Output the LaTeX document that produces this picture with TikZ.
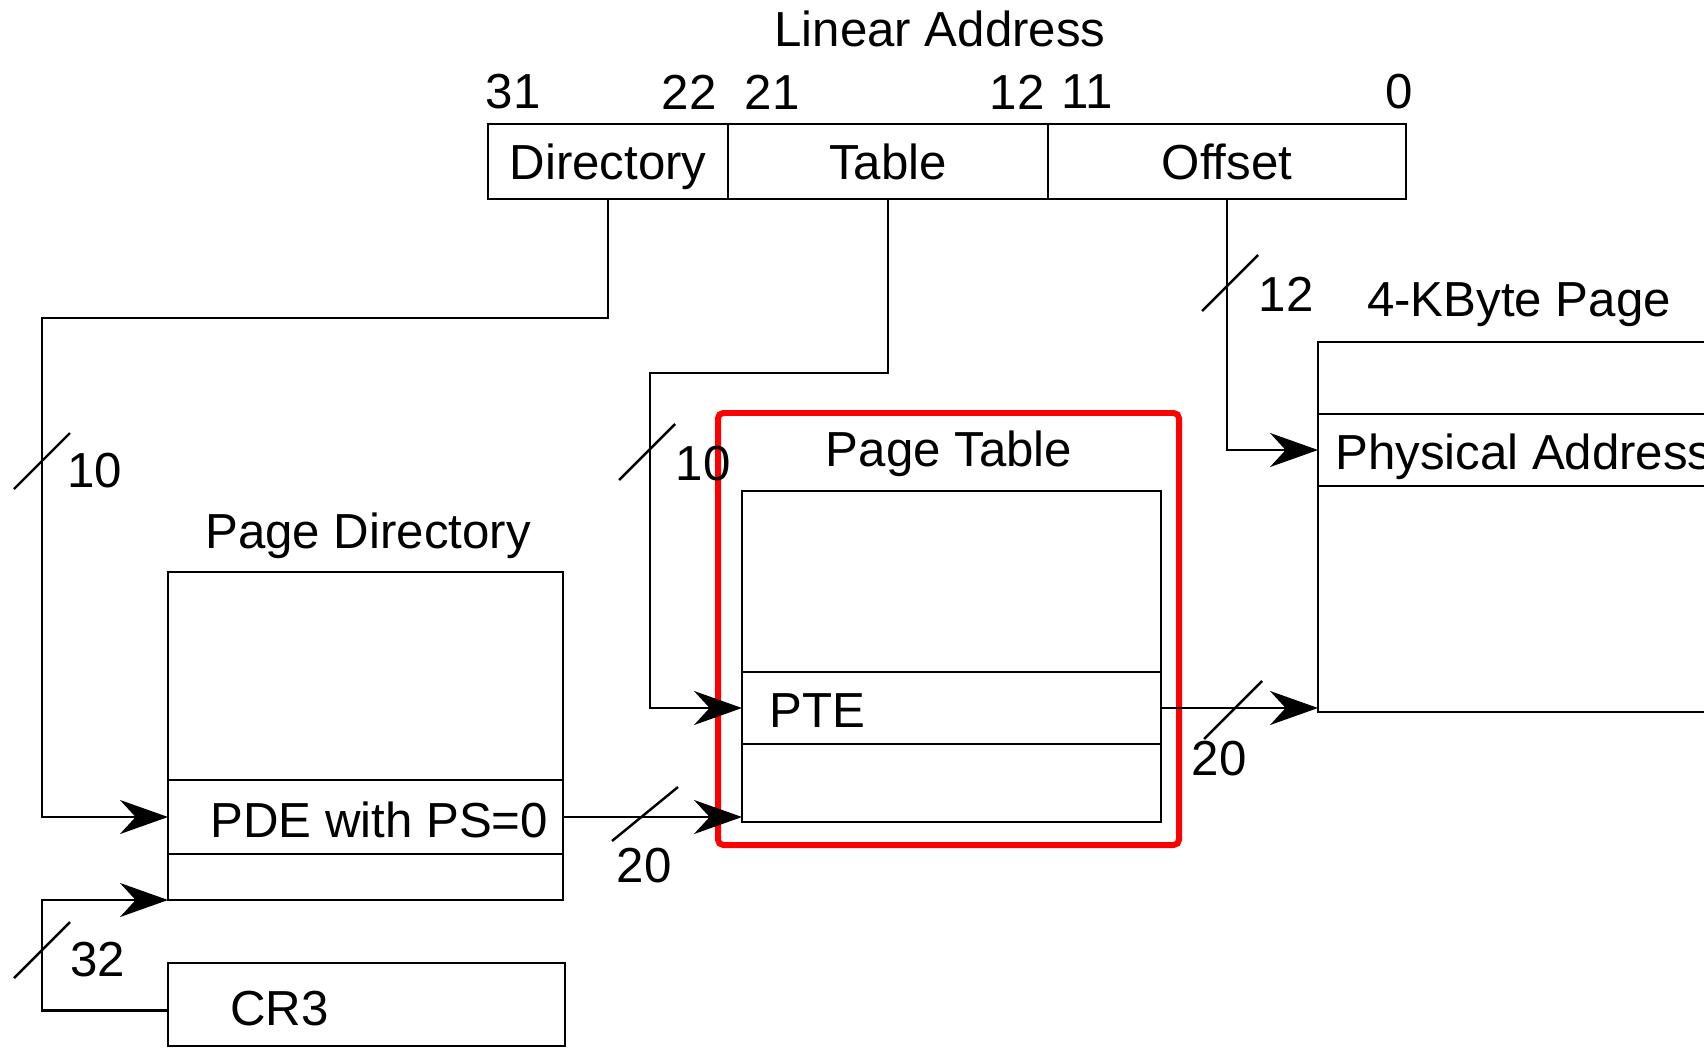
\documentclass[tikz,border=0pt]{standalone}
\usepackage{fontspec}
\setmainfont{Liberation Sans}
\usetikzlibrary{arrows.meta, positioning}

\begin{document}
\begin{tikzpicture}[
  >={Stealth[length=4.8mm, width=3.4mm]},
  line width=0.7pt,
  field/.style={
    draw, minimum height=0.75cm, inner sep=0pt, outer sep=0pt,
    text height=12.6pt, text depth=2.6pt,
    anchor=north west, font=\fontsize{14}{16}\selectfont
  },
  cell/.style={draw, minimum width=#1, inner sep=0pt, outer sep=0pt},
  lbl/.style={font=\fontsize{14}{16}\selectfont, inner sep=0pt},
  arr/.style={->, line width=0.7pt},
  tick/.style={line width=0.7pt},
  hilite/.style={draw=red, line width=1.7pt, rounded corners=1.5pt},
]

% Canvas
\useasboundingbox (0,0) rectangle (17.04,-10.48);
\clip (0,0) rectangle (17.04,-10.48);

% ===== Linear address =====
\node[lbl] (latitle) at (9.40,-0.29) {Linear Address};
\node[lbl] (b31) at (5.13,-0.92) {31};
\node[lbl] (b22) at (6.89,-0.92) {22};
\node[lbl] (b21) at (7.72,-0.92) {21};
\node[lbl] (b12) at (10.17,-0.92) {12};
\node[lbl] (b11) at (10.87,-0.92) {11};
\node[lbl] (b0) at (13.99,-0.92) {0};

\node[field, minimum width=2.40cm] (dirf) at (4.88,-1.24) {Directory};
\node[field, minimum width=3.20cm] (tblf) at (7.28,-1.24) {Table};
\node[field, minimum width=3.58cm] (offf) at (10.48,-1.24) {Offset};

% ===== Page directory =====
\node[lbl] (pdtitle) at (3.68,-5.36) {Page Directory};
\node[cell=3.95cm, minimum height=2.08cm, anchor=north west] (pdtop) at (1.68,-5.72) {};
\node[cell=3.95cm, minimum height=0.74cm, below=0pt of pdtop] (pde) {};
\node[cell=3.95cm, minimum height=0.46cm, below=0pt of pde] (pdbot) {};
\node[lbl, anchor=west] (pdetxt) at ([xshift=0.41cm, yshift=-0.03cm]pde.west) {PDE with PS=0};

% ===== Page table =====
\node[lbl] (pttitle) at (9.49,-4.54) {Page Table};
\node[cell=4.19cm, minimum height=1.81cm, anchor=north west] (pttop) at (7.42,-4.91) {};
\node[cell=4.19cm, minimum height=0.72cm, below=0pt of pttop] (pte) {};
\node[cell=4.19cm, minimum height=0.78cm, below=0pt of pte] (ptbot) {};
\node[lbl, anchor=west] (ptetxt) at ([xshift=0.26cm, yshift=-0.03cm]pte.west) {PTE};

% highlight
\draw[hilite] (7.18,-4.13) rectangle (11.79,-8.45);

% ===== 4-KByte page =====
\node[lbl] (pgtitle) at (15.19,-3.05) {4-KByte Page};
\node[cell=4.3cm, minimum height=0.72cm, anchor=north west] (pgtop) at (13.18,-3.42) {};
\node[cell=4.3cm, minimum height=0.72cm, below=0pt of pgtop] (phys) {};
\node[cell=4.3cm, minimum height=2.26cm, below=0pt of phys] (pgbot) {};
\node[lbl, anchor=west] (phystxt) at ([xshift=0.16cm, yshift=-0.07cm]phys.west) {Physical Address};

% ===== CR3 =====
\node[cell=3.97cm, minimum height=0.83cm, anchor=north west] (cr3) at (1.68,-9.63) {};
\node[lbl, anchor=west] (cr3txt) at ([xshift=0.61cm, yshift=-0.04cm]cr3.west) {CR3};

% ===== Arrows =====
\draw[arr] (dirf.south) |- (0.42,-3.18) |- (pde.west);
\draw[arr] (tblf.south) |- (6.50,-3.73) |- (pte.west);
\draw[arr] (offf.south) |- (phys.west);
\draw[arr] (pde.east) -- (pde.east -| ptbot.west);
\draw[arr] (pte.east) -- (pte.east -| pgbot.west);
\draw[arr] ([yshift=-0.06cm]cr3.west) -- ++(-1.26,0) |- (pdbot.south west);

% ===== Bus widths =====
\coordinate (s1) at (0.42,-4.61);
\draw[tick] ([shift={(-0.28,-0.28)}]s1) -- ([shift={(0.28,0.28)}]s1);
\node[lbl] (w1) at (0.95,-4.71) {10};

\coordinate (s2) at (6.47,-4.52);
\draw[tick] ([shift={(-0.28,-0.28)}]s2) -- ([shift={(0.28,0.28)}]s2);
\node[lbl] (w2) at (7.03,-4.64) {10};

\coordinate (s3) at (12.30,-2.83);
\draw[tick] ([shift={(-0.28,-0.28)}]s3) -- ([shift={(0.28,0.28)}]s3);
\node[lbl] (w3) at (12.86,-2.94) {12};

\coordinate (s4) at (12.33,-7.10);
\draw[tick] ([shift={(-0.29,-0.29)}]s4) -- ([shift={(0.29,0.29)}]s4);
\node[lbl] (w4) at (12.19,-7.59) {20};

\coordinate (s5) at (6.45,-8.14);
\draw[tick] ([shift={(-0.33,-0.27)}]s5) -- ([shift={(0.33,0.27)}]s5);
\node[lbl] (w5) at (6.44,-8.66) {20};

\coordinate (s6) at (0.42,-9.50);
\draw[tick] ([shift={(-0.28,-0.28)}]s6) -- ([shift={(0.28,0.28)}]s6);
\node[lbl] (w6) at (0.98,-9.60) {32};

\end{tikzpicture}
\end{document}
